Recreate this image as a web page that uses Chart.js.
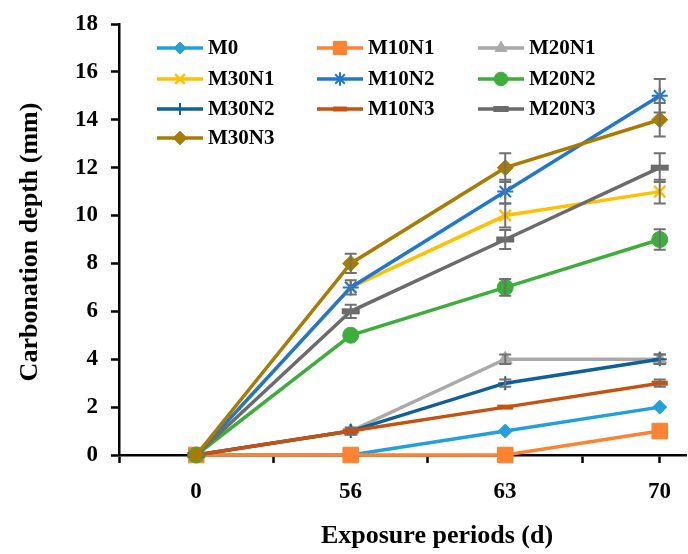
<!DOCTYPE html>
<html>
<head>
<meta charset="utf-8">
<script src="https://cdn.jsdelivr.net/npm/chart.js@4.4.1/dist/chart.umd.min.js"></script>
<style>
	html, body { margin: 0; padding: 0; background: #fff; }
</style>
</head>
<body>
<canvas id="myChart" width="688" height="554"></canvas>
<script>
// exposure periods (d)
const periods = ['0', '56', '63', '70'];

// carbonation depth (mm)
const m0 = [0, 0, 1, 2];
const m10n1 = [0, 0, 0, 1];
const m20n1 = [0, 1, 4, 4];
const m30n1 = [0, 7, 10, 11];
const m10n2 = [0, 7, 11, 15];
const m20n2 = [0, 5, 7, 9];
const m30n2 = [0, 1, 3, 4];
const m10n3 = [0, 1, 2, 3];
const m20n3 = [0, 6, 9, 12];
const m30n3 = [0, 8, 12, 14];

// error bars (+/- mm)
const errM0 = [0, 0, 0, 0];
const errM10n1 = [0, 0, 0, 0];
const errM20n1 = [0, 0.1, 0.2, 0.2];
const errM30n1 = [0, 0, 0.5, 0.5];
const errM10n2 = [0, 0.3, 0.5, 0.7];
const errM20n2 = [0, 0, 0.35, 0.43];
const errM30n2 = [0, 0.15, 0.15, 0.2];
const errM10n3 = [0, 0, 0, 0.15];
const errM20n3 = [0, 0.28, 0.4, 0.6];
const errM30n3 = [0, 0.4, 0.6, 0.7];

const yTicks = [0, 2, 4, 6, 8, 10, 12, 14, 16, 18];

const FONT = 'Liberation Serif';

const series = [
	{ name: 'M0', values: m0, err: errM0, color: '#21a0db', style: 'rectRot', r: 7, bw: 1 },
	{ name: 'M10N1', values: m10n1, err: errM10n1, color: '#fb8331', style: 'rect', r: 11, bw: 1 },
	{ name: 'M20N1', values: m20n1, err: errM20n1, color: '#a9a9a9', style: 'triangle', r: 8, bw: 1 },
	{ name: 'M30N1', values: m30n1, err: errM30n1, color: '#ffc000', style: 'crossRot', r: 8, bw: 2.5 },
	{ name: 'M10N2', values: m10n2, err: errM10n2, color: '#1e78d2', style: 'star', r: 8, bw: 2 },
	{ name: 'M20N2', values: m20n2, err: errM20n2, color: '#3dae3c', style: 'circle', r: 8, bw: 1 },
	{ name: 'M30N2', values: m30n2, err: errM30n2, color: '#0f5f98', style: 'cross', r: 7, bw: 2 },
	{ name: 'M10N3', values: m10n3, err: errM10n3, color: '#c5520e', style: 'line', r: 8, bw: 5 },
	{ name: 'M20N3', values: m20n3, err: errM20n3, color: '#6b6b6b', style: 'line', r: 9, bw: 6 },
	{ name: 'M30N3', values: m30n3, err: errM30n3, color: '#a97b00', style: 'rectRot', r: 8, bw: 1 }
];

// error bars drawn right after each series, like Excel does
const errorBars = {
	id: 'errorBars',
	afterDatasetDraw(chart, args) {
		const s = series[args.index];
		const ctx = chart.ctx;
		const x = chart.scales.x;
		const y = chart.scales.y;
		ctx.save();
		ctx.strokeStyle = '#707070';
		ctx.lineWidth = 2;
		s.values.forEach((v, i) => {
			const e = s.err[i];
			if (!e) return;
			const px = x.getPixelForValue(i);
			const top = y.getPixelForValue(v + e);
			const bot = y.getPixelForValue(v - e);
			ctx.beginPath();
			ctx.moveTo(px, top);
			ctx.lineTo(px, bot);
			ctx.moveTo(px - 6, top);
			ctx.lineTo(px + 6, top);
			ctx.moveTo(px - 6, bot);
			ctx.lineTo(px + 6, bot);
			ctx.stroke();
		});
		ctx.restore();
	}
};

// legend in 3 columns inside the plot + axis titles
const legendAndTitles = {
	id: 'legendAndTitles',
	afterDraw(chart) {
		const ctx = chart.ctx;
		const colX = [157, 317, 478];
		const rowY = [48, 79, 109, 138];
		ctx.save();
		series.forEach((s, i) => {
			const x0 = colX[i % 3];
			const y0 = rowY[Math.floor(i / 3)];
			ctx.strokeStyle = s.color;
			ctx.fillStyle = s.color;
			ctx.lineWidth = 3.5;
			ctx.beginPath();
			ctx.moveTo(x0, y0);
			ctx.lineTo(x0 + 46, y0);
			ctx.stroke();
			ctx.lineWidth = s.bw;
			Chart.helpers.drawPoint(ctx, { pointStyle: s.style, radius: s.r * 0.85, borderWidth: s.bw, rotation: 0 }, x0 + 23, y0);
			ctx.fillStyle = '#000';
			ctx.font = 'bold 21px "' + FONT + '"';
			ctx.textBaseline = 'middle';
			ctx.textAlign = 'left';
			ctx.fillText(s.name, x0 + 51, y0 + 1);
		});

		ctx.font = 'bold 26px "' + FONT + '"';
		ctx.fillStyle = '#000';
		ctx.textAlign = 'center';
		ctx.textBaseline = 'middle';
		ctx.fillText('Exposure periods (d)', 437, 536);
		ctx.translate(30, 242);
		ctx.rotate(-Math.PI / 2);
		ctx.fillText('Carbonation depth (mm)', 0, 0);
		ctx.restore();
	}
};

const ctx = document.getElementById('myChart');

new Chart(ctx, {
	type: 'line',
	data: {
		datasets: series.map((s, i) => ({
			label: s.name,
			data: s.values.map((v, j) => ({ x: j, y: v })),
			borderColor: s.color,
			backgroundColor: s.color,
			pointBackgroundColor: s.color,
			pointBorderColor: s.color,
			pointStyle: s.style,
			pointRadius: s.r,
			pointBorderWidth: s.bw,
			borderWidth: 3.5,
			tension: 0,
			clip: false,
			order: series.length - i
		}))
	},
	options: {
		responsive: false,
		animation: false,
		devicePixelRatio: 1,
		layout: { autoPadding: false, padding: { top: 24, right: 2, left: 0, bottom: 0 } },
		plugins: {
			legend: { display: false },
			tooltip: { enabled: false }
		},
		scales: {
			x: {
				type: 'linear',
				min: -0.5,
				max: 3.17,
				afterBuildTicks: scale => {
					scale.ticks = [-0.5, 0.5, 1.5, 2.5, 3].map(v => ({ value: v }));
				},
				afterFit: scale => {
					scale.height = 99;
					scale.paddingLeft = 0;
					scale.paddingRight = 0;
				},
				ticks: {
					callback: (v, i) => (i < periods.length ? periods[i] : ''),
					labelOffset: 77,
					padding: 15,
					maxRotation: 0,
					autoSkip: false,
					color: '#000',
					font: { family: FONT, size: 23, weight: 'bold' }
				},
				grid: { drawOnChartArea: false, tickLength: 8, tickWidth: 2.5, color: '#000' },
				border: { color: '#000', width: 2.5 }
			},
			y: {
				min: 0,
				max: 18,
				afterBuildTicks: scale => {
					scale.ticks = yTicks.map(v => ({ value: v }));
				},
				afterFit: scale => {
					scale.width = 119;
					scale.paddingTop = 0;
					scale.paddingBottom = 0;
				},
				ticks: {
					padding: 13,
					color: '#000',
					font: { family: FONT, size: 23, weight: 'bold' }
				},
				grid: { drawOnChartArea: false, tickLength: 8, tickWidth: 2.5, color: '#000' },
				border: { color: '#000', width: 2.5 }
			}
		}
	},
	plugins: [errorBars, legendAndTitles]
});
</script>
</body>
</html>
